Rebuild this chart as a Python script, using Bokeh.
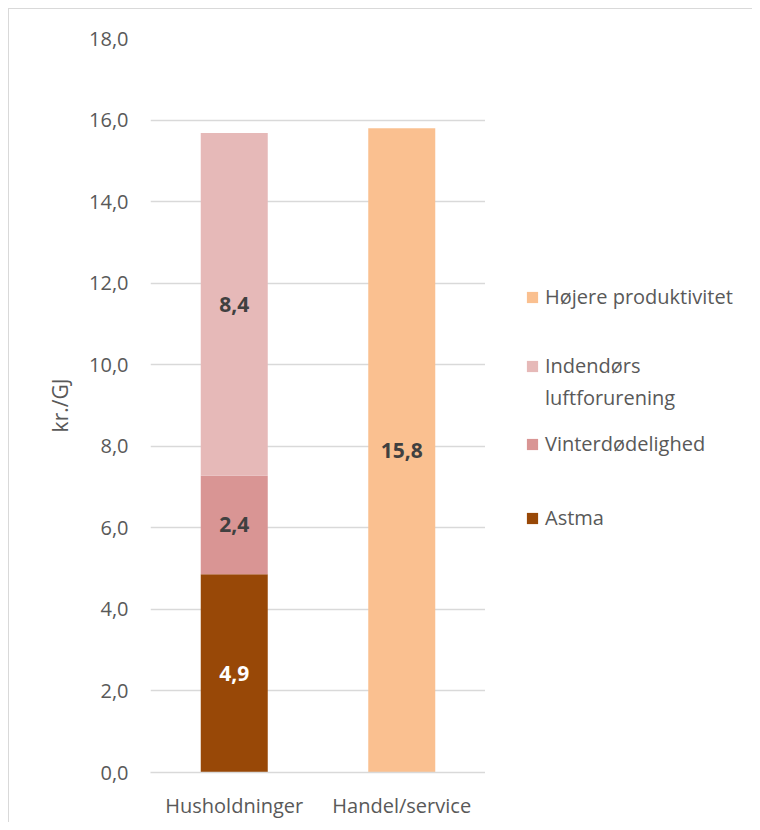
from bokeh.plotting import figure
from bokeh.layouts import row
from bokeh.models import (FactorRange, Range1d, FixedTicker, CustomJSTickFormatter,
                          Legend, LegendItem, ColumnDataSource)
from bokeh.core.properties import value
from bokeh.embed import file_html
from bokeh.resources import INLINE

categories = ["Husholdninger", "Handel/service"]
series_names = ["Astma", "Vinterdødelighed", "Indendørs\nluftforurening", "Højere produktivitet"]
astma = [4.86, 0.0]
vinterdodelighed = [2.42, 0.0]
indendors = [8.40, 0.0]
hojere = [0.0, 15.8]
y_ticks = [0, 2, 4, 6, 8, 10, 12, 14, 16, 18]
y_label = "kr./GJ"

colors = ["#984807", "#D99594", "#E6B9B8", "#FAC090"]
label_colors = ["#FFFFFF", "#404040", "#404040", "#404040"]
FONT = "Open Sans"
GRAY = "#595959"
GRID = "#D9D9D9"

keys = ["astma", "vinter", "inden", "hojere"]
data = dict(cat=categories, astma=astma, vinter=vinterdodelighed, inden=indendors, hojere=hojere)
src = ColumnDataSource(data)

p = figure(x_range=FactorRange(*categories, range_padding=0), y_range=Range1d(0, 18),
           frame_width=335, frame_height=734, output_backend="svg", toolbar_location=None,
           min_border_left=150, min_border_right=0, min_border_top=38, min_border_bottom=50)
p.border_fill_color = None
p.styles = {
    "background": "linear-gradient(#D9D9D9,#D9D9D9) 8px 8px / 100% 1px no-repeat, "
                  "linear-gradient(#D9D9D9,#D9D9D9) 8px 8px / 1px 100% no-repeat, #FFFFFF"
}
p.outline_line_color = None
p.background_fill_color = "white"

rends = p.vbar_stack(keys, x="cat", width=0.4, color=colors, source=src, line_color=None)

# value labels
lx, ly, lt, lc = [], [], [], []
for ci, c in enumerate(categories):
    base = 0.0
    for si, arr in enumerate([astma, vinterdodelighed, indendors, hojere]):
        v = arr[ci]
        if v > 0:
            lx.append(c)
            ly.append(base + v / 2)
            lt.append(f"{v:.1f}".replace(".", ","))
            lc.append(label_colors[si])
        base += v
lsrc = ColumnDataSource(dict(x=lx, y=ly, t=lt, c=lc))
p.text(x="x", y="y", text="t", text_color="c", source=lsrc, text_align="center",
       text_baseline="middle", text_font=value(FONT), text_font_size="21px", text_font_style="bold")

# axes
p.yaxis.ticker = FixedTicker(ticks=y_ticks)
p.yaxis.formatter = CustomJSTickFormatter(code="return tick.toFixed(1).replace('.', ',');")
p.yaxis.axis_line_color = None
p.yaxis.major_tick_line_color = None
p.yaxis.minor_tick_line_color = None
p.yaxis.major_label_text_font = FONT
p.yaxis.major_label_text_font_size = "20px"
p.yaxis.major_label_text_color = GRAY
p.yaxis.major_label_standoff = 16
p.yaxis.axis_label = y_label
p.yaxis.axis_label_text_font = FONT
p.yaxis.axis_label_text_font_size = "21px"
p.yaxis.axis_label_text_font_style = "normal"
p.yaxis.axis_label_text_color = GRAY
p.yaxis.axis_label_standoff = 12

p.xaxis.axis_line_color = GRID
p.xaxis.axis_line_width = 1.5
p.xaxis.major_tick_line_color = None
p.xaxis.minor_tick_line_color = None
p.xaxis.major_label_text_font = FONT
p.xaxis.major_label_text_font_size = "20px"
p.xaxis.major_label_text_color = GRAY
p.xaxis.major_label_standoff = 13

p.xgrid.grid_line_color = None
p.ygrid.grid_line_color = GRID
p.ygrid.grid_line_width = 1.5

# legend panel (separate figure to the right); its renderers are hidden and
# only serve as legend swatches
p2 = figure(width=267, height=822, x_range=FactorRange(*categories), y_range=Range1d(0, 18),
            output_backend="svg", toolbar_location=None, min_border=0)
p2.axis.visible = False
p2.grid.grid_line_color = None
p2.outline_line_color = None
p2.border_fill_color = None
p2.background_fill_color = None
p2.styles = {
    "background": "linear-gradient(#D9D9D9,#D9D9D9) 0px 8px / 100% 1px no-repeat, #FFFFFF"
}

swatches = p2.vbar_stack(keys, x="cat", width=0.4, color=colors, source=src, line_color=None)
blank = p2.vbar(x="cat", top="inden", width=0.4, source=src, fill_alpha=0, line_alpha=0)
for r in list(swatches) + [blank]:
    r.visible = False

# legend rows: (series index, line of its label, vertical position)
legend_rows = [(3, 0, 462), (2, 0, 393), (2, 1, 361), (1, 0, 315), (0, 0, 241)]
for i, line_no, ypos in legend_rows:
    text = series_names[i].split("\n")[line_no]
    rend = swatches[i] if line_no == 0 else blank
    lg = Legend(items=[LegendItem(label=text, renderers=[rend])],
                location=(40, ypos), orientation="vertical")
    lg.glyph_width = 14
    lg.glyph_height = 14
    lg.label_height = 20
    lg.label_standoff = 6
    lg.padding = 0
    lg.margin = 0
    lg.spacing = 0
    lg.border_line_color = None
    lg.background_fill_alpha = 0
    lg.inactive_fill_alpha = 0
    lg.label_text_font = FONT
    lg.label_text_font_size = "20px"
    lg.label_text_color = GRAY
    p2.add_layout(lg, "center")

layout = row(p, p2)
open("out.html", "w").write(file_html(layout, INLINE))
